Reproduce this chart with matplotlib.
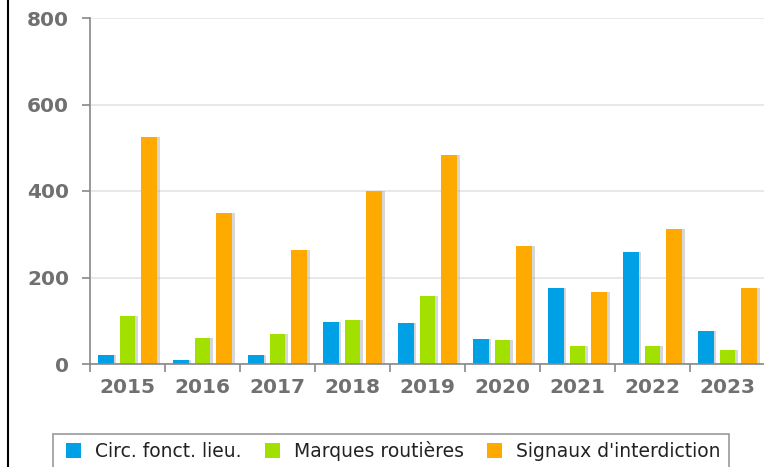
import matplotlib
matplotlib.use("Agg")
import matplotlib.pyplot as plt
import numpy as np
from matplotlib.lines import Line2D
from matplotlib.patches import Rectangle

years = ["2015", "2016", "2017", "2018", "2019", "2020", "2021", "2022", "2023"]
circ = [20, 10, 20, 98, 95, 57, 176, 259, 76]
marques = [110, 60, 70, 102, 158, 56, 42, 42, 33]
signaux = [525, 350, 263, 400, 483, 273, 166, 312, 176]
series_names = ["Circ. fonct. lieu.", "Marques routières", "Signaux d'interdiction"]
colors = ["#00a0e6", "#a2e000", "#ffaa00"]

W, H = 764, 467
fig = plt.figure(figsize=(W / 100, H / 100), dpi=100)
ax = fig.add_axes([90 / W, (H - 364) / H, (765 - 90) / W, (364 - 18) / H])

x = np.arange(len(years))
bw = 0.213
step = 0.293
bars = []
for i, (vals, c) in enumerate(zip([circ, marques, signaux], colors)):
    pos = x + (i - 1) * step
    # soft shadow to the right of each bar
    ax.bar(pos + 0.03, vals, bw, color="#b0b0b0", alpha=0.5, zorder=2, linewidth=0)
    bars.append(ax.bar(pos, vals, bw, color=c, zorder=3, linewidth=0))

ax.set_xlim(-0.5, len(years) - 0.5)
ax.set_ylim(0, 800)
ax.set_yticks([0, 200, 400, 600, 800])
ax.set_xticks(np.arange(len(years) + 1) - 0.5, minor=False)
ax.set_xticklabels([])
ax.set_xticks(x, minor=True)
ax.set_xticklabels(years, minor=True)

ax.grid(axis="y", color="#e4e4e4", linewidth=1.2, zorder=0)
ax.set_axisbelow(True)
for s in ["top", "right"]:
    ax.spines[s].set_visible(False)
for s in ["left", "bottom"]:
    ax.spines[s].set_color("#888888")
    ax.spines[s].set_linewidth(1.2)
    ax.spines[s].set_zorder(4)

ax.tick_params(axis="y", length=6, width=1.2, color="#888888", pad=9,
               labelsize=14.5, labelcolor="#707070")
ax.tick_params(axis="x", which="major", length=6, width=1.2, color="#888888")
ax.tick_params(axis="x", which="minor", length=0, pad=10,
               labelsize=14.5, labelcolor="#707070")
for lab in ax.get_yticklabels() + ax.get_xticklabels(minor=True):
    lab.set_fontweight("bold")

# legend frame runs off the bottom edge, as in the original
fig.add_artist(Rectangle((53 / W, (H - 470) / H), (729 - 53) / W, 36 / H,
                         transform=fig.transFigure, facecolor="white",
                         edgecolor="#999999", linewidth=1.2))
leg = fig.legend(bars, series_names, loc="center left",
                 bbox_to_anchor=(66 / W, (H - 451) / H, (721 - 66) / W, 0),
                 mode="expand", ncol=3, borderaxespad=0, borderpad=0,
                 fontsize=13.5, handlelength=0.8, handleheight=0.8,
                 handletextpad=0.75, frameon=False)
for t in leg.get_texts():
    t.set_color("#222222")

fig.add_artist(Line2D([8 / W, 8 / W], [0, 1], color="black", linewidth=1.5,
                      transform=fig.transFigure))

fig.savefig("out.png", dpi=100)
